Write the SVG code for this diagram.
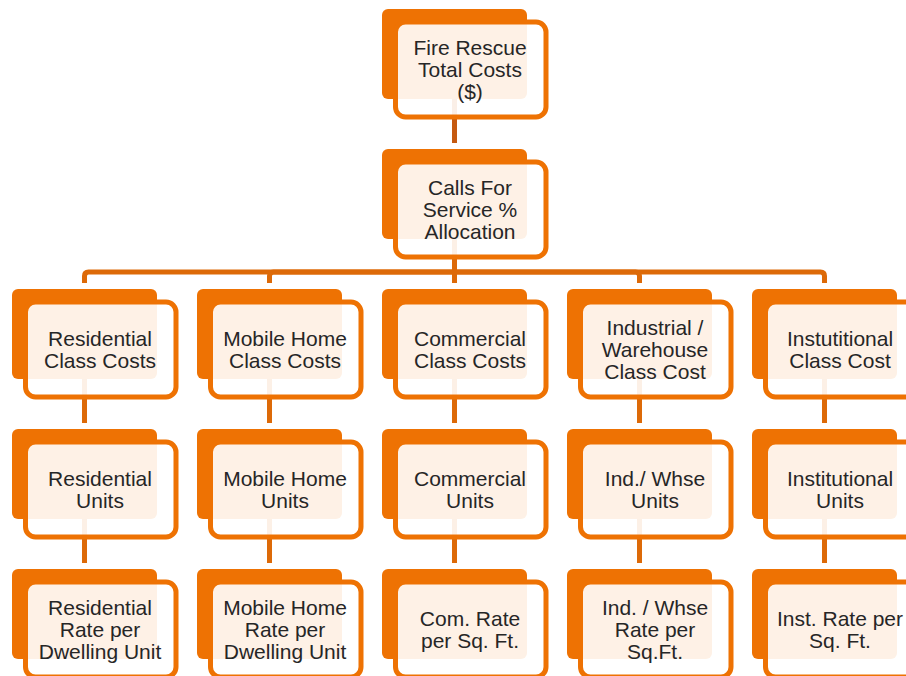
<svg xmlns="http://www.w3.org/2000/svg" width="906" height="676" viewBox="0 0 906 676">
  <defs>
    <style>
      .back { fill: #EE7203; }
      .front { fill: #FFFFFF; fill-opacity: 0.9; stroke: #EE7203; stroke-width: 5; }
      .label { font-family: "Liberation Sans", Arial, sans-serif; font-size: 21px; fill: #262626; text-anchor: middle; }
      .wire { fill: none; stroke: #DD6A08; stroke-width: 5; stroke-linecap: butt; }
      .wire-top { stroke: #C55A11; }
    </style>
  </defs>
  <rect width="906" height="676" fill="#FFFFFF"/>

  <!-- connectors -->
  <g id="connectors">
    <path class="wire wire-top" d="M454.5 99 V143"/>
    <path class="wire" d="M454.5 239 V272 H88.5 Q84.5 272 84.5 276 V283"/>
    <path class="wire" d="M454.5 239 V272 H273.5 Q269.5 272 269.5 276 V283"/>
    <path class="wire" d="M454.5 239 V283"/>
    <path class="wire" d="M454.5 239 V272 H635.5 Q639.5 272 639.5 276 V283"/>
    <path class="wire" d="M454.5 239 V272 H820.5 Q824.5 272 824.5 276 V283"/>
    <path class="wire" d="M84.5 379 V423 M269.5 379 V423 M454.5 379 V423 M639.5 379 V423 M824.5 379 V423"/>
    <path class="wire" d="M84.5 519 V563 M269.5 519 V563 M454.5 519 V563 M639.5 519 V563 M824.5 519 V563"/>
  </g>

  <!-- level 1 -->
  <g id="fire-rescue-total">
    <rect class="back" x="382" y="9" width="145" height="90" rx="6"/>
    <rect class="front" x="395.5" y="22" width="150.5" height="95" rx="10"/>
    <text class="label"><tspan x="470" y="55">Fire Rescue</tspan><tspan x="470" y="77">Total Costs</tspan><tspan x="470" y="99">($)</tspan></text>
  </g>

  <!-- level 2 -->
  <g id="calls-for-service">
    <rect class="back" x="382" y="149" width="145" height="90" rx="6"/>
    <rect class="front" x="395.5" y="162" width="150.5" height="95" rx="10"/>
    <text class="label"><tspan x="470" y="195">Calls For</tspan><tspan x="470" y="217">Service %</tspan><tspan x="470" y="239">Allocation</tspan></text>
  </g>

  <!-- level 3: class costs -->
  <g id="residential-class">
    <rect class="back" x="12" y="289" width="145" height="90" rx="6"/>
    <rect class="front" x="25.5" y="302" width="150.5" height="95" rx="10"/>
    <text class="label"><tspan x="100" y="346">Residential</tspan><tspan x="100" y="368">Class Costs</tspan></text>
  </g>
  <g id="mobile-home-class">
    <rect class="back" x="197" y="289" width="145" height="90" rx="6"/>
    <rect class="front" x="210.5" y="302" width="150.5" height="95" rx="10"/>
    <text class="label"><tspan x="285" y="346">Mobile Home</tspan><tspan x="285" y="368">Class Costs</tspan></text>
  </g>
  <g id="commercial-class">
    <rect class="back" x="382" y="289" width="145" height="90" rx="6"/>
    <rect class="front" x="395.5" y="302" width="150.5" height="95" rx="10"/>
    <text class="label"><tspan x="470" y="346">Commercial</tspan><tspan x="470" y="368">Class Costs</tspan></text>
  </g>
  <g id="industrial-class">
    <rect class="back" x="567" y="289" width="145" height="90" rx="6"/>
    <rect class="front" x="580.5" y="302" width="150.5" height="95" rx="10"/>
    <text class="label"><tspan x="655" y="335">Industrial /</tspan><tspan x="655" y="357">Warehouse</tspan><tspan x="655" y="379">Class Cost</tspan></text>
  </g>
  <g id="institutional-class">
    <rect class="back" x="752" y="289" width="145" height="90" rx="6"/>
    <rect class="front" x="765.5" y="302" width="150.5" height="95" rx="10"/>
    <text class="label"><tspan x="840" y="346">Instutitional</tspan><tspan x="840" y="368">Class Cost</tspan></text>
  </g>

  <!-- level 4: units -->
  <g id="residential-units">
    <rect class="back" x="12" y="429" width="145" height="90" rx="6"/>
    <rect class="front" x="25.5" y="442" width="150.5" height="95" rx="10"/>
    <text class="label"><tspan x="100" y="486">Residential</tspan><tspan x="100" y="508">Units</tspan></text>
  </g>
  <g id="mobile-home-units">
    <rect class="back" x="197" y="429" width="145" height="90" rx="6"/>
    <rect class="front" x="210.5" y="442" width="150.5" height="95" rx="10"/>
    <text class="label"><tspan x="285" y="486">Mobile Home</tspan><tspan x="285" y="508">Units</tspan></text>
  </g>
  <g id="commercial-units">
    <rect class="back" x="382" y="429" width="145" height="90" rx="6"/>
    <rect class="front" x="395.5" y="442" width="150.5" height="95" rx="10"/>
    <text class="label"><tspan x="470" y="486">Commercial</tspan><tspan x="470" y="508">Units</tspan></text>
  </g>
  <g id="industrial-units">
    <rect class="back" x="567" y="429" width="145" height="90" rx="6"/>
    <rect class="front" x="580.5" y="442" width="150.5" height="95" rx="10"/>
    <text class="label"><tspan x="655" y="486">Ind./ Whse</tspan><tspan x="655" y="508">Units</tspan></text>
  </g>
  <g id="institutional-units">
    <rect class="back" x="752" y="429" width="145" height="90" rx="6"/>
    <rect class="front" x="765.5" y="442" width="150.5" height="95" rx="10"/>
    <text class="label"><tspan x="840" y="486">Institutional</tspan><tspan x="840" y="508">Units</tspan></text>
  </g>

  <!-- level 5: rates -->
  <g id="residential-rate">
    <rect class="back" x="12" y="569" width="145" height="90" rx="6"/>
    <rect class="front" x="25.5" y="582" width="150.5" height="95" rx="10"/>
    <text class="label"><tspan x="100" y="615">Residential</tspan><tspan x="100" y="637">Rate per</tspan><tspan x="100" y="659">Dwelling Unit</tspan></text>
  </g>
  <g id="mobile-home-rate">
    <rect class="back" x="197" y="569" width="145" height="90" rx="6"/>
    <rect class="front" x="210.5" y="582" width="150.5" height="95" rx="10"/>
    <text class="label"><tspan x="285" y="615">Mobile Home</tspan><tspan x="285" y="637">Rate per</tspan><tspan x="285" y="659">Dwelling Unit</tspan></text>
  </g>
  <g id="commercial-rate">
    <rect class="back" x="382" y="569" width="145" height="90" rx="6"/>
    <rect class="front" x="395.5" y="582" width="150.5" height="95" rx="10"/>
    <text class="label"><tspan x="470" y="626">Com. Rate</tspan><tspan x="470" y="648">per Sq. Ft.</tspan></text>
  </g>
  <g id="industrial-rate">
    <rect class="back" x="567" y="569" width="145" height="90" rx="6"/>
    <rect class="front" x="580.5" y="582" width="150.5" height="95" rx="10"/>
    <text class="label"><tspan x="655" y="615">Ind. / Whse</tspan><tspan x="655" y="637">Rate per</tspan><tspan x="655" y="659">Sq.Ft.</tspan></text>
  </g>
  <g id="institutional-rate">
    <rect class="back" x="752" y="569" width="145" height="90" rx="6"/>
    <rect class="front" x="765.5" y="582" width="150.5" height="95" rx="10"/>
    <text class="label"><tspan x="840" y="626">Inst. Rate per</tspan><tspan x="840" y="648">Sq. Ft.</tspan></text>
  </g>
</svg>
